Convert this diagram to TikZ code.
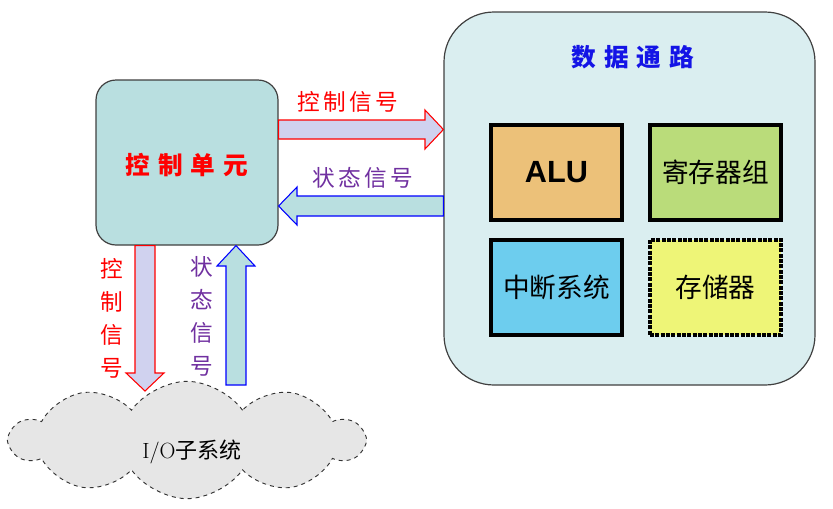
\documentclass[tikz,border=0pt]{standalone}
\usepackage{fontspec}
\setsansfont{Liberation Sans}
\newfontfamily\cjk{Noto Sans CJK SC}
\usetikzlibrary{shapes.symbols}
\definecolor{cufill}{HTML}{B9DFE0}
\definecolor{dpfill}{HTML}{DAEEF0}
\definecolor{lav}{HTML}{D0D2EF}
\definecolor{alufill}{HTML}{ECC179}
\definecolor{regfill}{HTML}{BADC7A}
\definecolor{intfill}{HTML}{6DCDEE}
\definecolor{memfill}{HTML}{EEF577}
\definecolor{cloudfill}{HTML}{E6E6E6}
\definecolor{purp}{HTML}{7030A0}
\definecolor{titleblue}{HTML}{1414E6}
\definecolor{edge}{HTML}{404040}
\tikzset{
  unitbox/.style={draw=edge, line width=0.9pt, fill=cufill, rounded corners=15pt,
    minimum width=136.5pt, minimum height=123.75pt, inner sep=0pt},
  pathbox/.style={draw=edge, line width=0.9pt, fill=dpfill, rounded corners=37.5pt,
    minimum width=278.25pt, minimum height=279.75pt, inner sep=0pt},
  partbox/.style={draw=black, line width=3pt, minimum width=98.25pt, minimum height=71.25pt,
    inner sep=0pt, font=\cjk\fontsize{20}{24}\selectfont},
  ctrlarrow/.style={draw=red, fill=lav, line width=0.8pt, line join=miter},
  statarrow/.style={draw=blue, fill=cufill, line width=0.8pt, line join=miter},
  ctrltext/.style={text=red, font=\cjk\fontsize{17}{20}\selectfont, inner sep=0pt},
  stattext/.style={text=purp, font=\cjk\fontsize{17}{20}\selectfont, inner sep=0pt},
  vtext/.style={align=center, inner sep=0pt, font=\cjk\fontsize{17}{24.75}\selectfont},
}
\begin{document}
\begin{tikzpicture}[x=0.75pt,y=-0.75pt]
\useasboundingbox (0,0) rectangle (833,508);

% data path
\node[pathbox] (dp) at (629.5,198.5) {};
\node[text=titleblue, font=\cjk\bfseries\fontsize{18.5}{22}\selectfont, inner sep=0pt] (dptitle) at (633,57)
  {数\kern6pt 据\kern6pt 通\kern6pt 路};
\node[partbox, fill=alufill, font=\sffamily\bfseries\fontsize{23}{26}\selectfont] (alu) at (556.5,172.5) {ALU};
\node[partbox, fill=regfill] (reg) at (715.5,172.5) {寄存器组};
\node[partbox, fill=intfill] (int) at (556.5,287) {中断系统};
\node[partbox, fill=memfill, densely dotted] (mem) at (715.5,287) {存储器};

% control unit
\node[unitbox] (cu) at (187,162.5) {};
\node[text=red, font=\cjk\bfseries\fontsize{18.5}{22}\selectfont, inner sep=0pt] (cutitle) at (187,165)
  {控\kern6pt 制\kern6pt 单\kern6pt 元};

% I/O cloud
\node[cloud, cloud puffs=10, cloud puff arc=110, cloud ignores aspect, draw=black!80, dashed,
  line width=0.7pt, fill=cloudfill, minimum width=264pt, minimum height=88pt, inner sep=0pt] (io) at (187,440) {};
\node[inner sep=0pt, font=\fontsize{16.5}{19}\selectfont] (iotext) at (192,452) {I/O{\cjk 子系统}};

% horizontal control arrow
\draw[ctrlarrow] (cu.east |- 0,120) -- (425,120) -- (425,110) -- (dp.west |- 0,129.5)
  -- (425,149) -- (425,139) -- (cu.east |- 0,139) -- cycle;
\node[ctrltext] (lc1) at (348,102) {控\kern2.5pt 制\kern2.5pt 信\kern2.5pt 号};

% horizontal status arrow
\draw[statarrow] (dp.west |- 0,196) -- (297,196) -- (297,187) -- (cu.east |- 0,206)
  -- (297,225) -- (297,216) -- (dp.west |- 0,216) -- cycle;
\node[stattext] (ls1) at (363,178) {状\kern2.5pt 态\kern2.5pt 信\kern2.5pt 号};

% vertical control arrow
\draw[ctrlarrow] (135,0 |- cu.south) -- (135,373) -- (126,373) -- (145,391)
  -- (164,373) -- (155,373) -- (155,0 |- cu.south) -- cycle;
\node[vtext, text=red] (lc2) at (112,318) {控\\制\\信\\号};

% vertical status arrow
\draw[statarrow] (226,385) -- (226,266) -- (217,266) -- (236,0 |- cu.south)
  -- (255,266) -- (246,266) -- (246,385) -- cycle;
\node[vtext, text=purp] (ls2) at (202,316) {状\\态\\信\\号};
\end{tikzpicture}
\end{document}
